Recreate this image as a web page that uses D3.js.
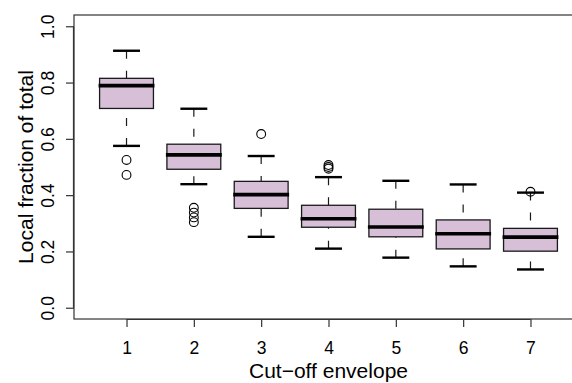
<!DOCTYPE html>
<html>
<head>
<meta charset="utf-8">
<script src="https://cdn.jsdelivr.net/npm/d3@7"></script>
<style>
  html, body { margin: 0; padding: 0; background: #fff; }
  svg { display: block; }
  text { font-family: "Liberation Sans", Arial, Helvetica, sans-serif; fill: #000; }
</style>
</head>
<body>
<svg id="chart" width="572" height="383"></svg>
<script>
// Five-number summaries per cut-off envelope, plus points beyond the whiskers
const categories  = [1, 2, 3, 4, 5, 6, 7];
const whiskerLow  = [0.575, 0.439, 0.252, 0.210, 0.178, 0.147, 0.136];
const quartile1   = [0.708, 0.492, 0.353, 0.286, 0.252, 0.209, 0.201];
const medians     = [0.789, 0.543, 0.402, 0.316, 0.287, 0.263, 0.251];
const quartile3   = [0.815, 0.581, 0.449, 0.364, 0.350, 0.312, 0.282];
const whiskerHigh = [0.913, 0.707, 0.539, 0.464, 0.451, 0.438, 0.409];
const outliers    = [
  [0.525, 0.472],
  [0.355, 0.338, 0.321, 0.304],
  [0.617],
  [0.507, 0.500, 0.494],
  [],
  [],
  [0.412]
];
const yTicks = [0.0, 0.2, 0.4, 0.6, 0.8, 1.0];
const xLabel = "Cut\u2212off envelope";
const yLabel = "Local fraction of total";

const svg = d3.select("#chart");
const plot = { left: 74, right: 583, top: 15, bottom: 319 };

const x = d3.scaleLinear().domain([0.22, 7.78]).range([plot.left, plot.right]);
const y = d3.scaleLinear().domain([-0.04, 1.04]).range([plot.bottom, plot.top]);

const unit = x(2) - x(1);
const boxW = unit * 0.8;
const capW = boxW * 0.5;
const fill = "#d8bfd8";
const ink = "#1a1a1a";

const rows = categories.map((c, i) => ({
  c, lo: whiskerLow[i], q1: quartile1[i], med: medians[i], q3: quartile3[i], hi: whiskerHigh[i], out: outliers[i]
}));

const g = svg.append("g");
const box = g.selectAll("g.box").data(rows).enter().append("g").attr("class", "box");

// whiskers, dashed, running from the cap toward the box
box.append("line")
  .attr("x1", d => x(d.c)).attr("x2", d => x(d.c))
  .attr("y1", d => y(d.hi)).attr("y2", d => y(d.q3))
  .attr("stroke", ink).attr("stroke-width", 1.2).attr("stroke-dasharray", "8,12");
box.append("line")
  .attr("x1", d => x(d.c)).attr("x2", d => x(d.c))
  .attr("y1", d => y(d.lo)).attr("y2", d => y(d.q1))
  .attr("stroke", ink).attr("stroke-width", 1.2).attr("stroke-dasharray", "8,12");

// caps
["lo", "hi"].forEach(k => {
  box.append("line")
    .attr("x1", d => x(d.c) - capW / 2).attr("x2", d => x(d.c) + capW / 2)
    .attr("y1", d => y(d[k])).attr("y2", d => y(d[k]))
    .attr("stroke", "#000").attr("stroke-width", 2.4);
});

// interquartile box
box.append("rect")
  .attr("x", d => x(d.c) - boxW / 2)
  .attr("width", boxW)
  .attr("y", d => y(d.q3))
  .attr("height", d => y(d.q1) - y(d.q3))
  .attr("fill", fill).attr("stroke", ink).attr("stroke-width", 1.3);

// median
box.append("line")
  .attr("x1", d => x(d.c) - boxW / 2 - 1).attr("x2", d => x(d.c) + boxW / 2 + 1)
  .attr("y1", d => y(d.med)).attr("y2", d => y(d.med))
  .attr("stroke", "#000").attr("stroke-width", 3.6);

// outlying points
box.selectAll("circle").data(d => d.out.map(v => ({ c: d.c, v }))).enter().append("circle")
  .attr("cx", d => x(d.c)).attr("cy", d => y(d.v)).attr("r", 4.4)
  .attr("fill", "none").attr("stroke", "#000").attr("stroke-width", 1.1);

// frame
svg.append("rect")
  .attr("x", plot.left).attr("y", plot.top)
  .attr("width", plot.right - plot.left).attr("height", plot.bottom - plot.top)
  .attr("fill", "none").attr("stroke", "#333").attr("stroke-width", 1.2);

// x axis
const xAxis = d3.axisBottom(x).tickValues(categories).tickSize(8).tickSizeOuter(0)
  .tickFormat(d3.format("d"));
const gx = svg.append("g").attr("transform", `translate(0,${plot.bottom})`).call(xAxis);
gx.select(".domain").attr("d", `M${x(1)},0.5H${x(7)}`).attr("stroke", "#333").attr("stroke-width", 1.2);
gx.selectAll(".tick line").attr("stroke", "#333").attr("stroke-width", 1.2);
gx.selectAll(".tick text")
  .attr("font-size", 17.5).attr("font-family", null).attr("fill", "#000")
  .attr("y", 35).attr("dy", null);

// y axis, labels parallel to the axis
const yAxis = d3.axisLeft(y).tickValues(yTicks).tickSize(8).tickSizeOuter(0).tickFormat(d3.format(".1f"));
const gy = svg.append("g").attr("transform", `translate(${plot.left},0)`).call(yAxis);
gy.select(".domain").attr("d", `M-0.5,${y(0)}V${y(1)}`).attr("stroke", "#333").attr("stroke-width", 1.2);
gy.selectAll(".tick line").attr("stroke", "#333").attr("stroke-width", 1.2);
gy.selectAll(".tick text")
  .attr("font-size", 17.5).attr("font-family", null).attr("fill", "#000")
  .attr("x", null).attr("dy", null)
  .attr("transform", "translate(-20,0) rotate(-90)")
  .attr("text-anchor", "middle");

// axis titles
svg.append("text")
  .attr("x", x(4)).attr("y", 377.5)
  .attr("text-anchor", "middle").attr("font-size", 21)
  .text(xLabel);
svg.append("text")
  .attr("transform", `translate(33,${y(0.5)}) rotate(-90)`)
  .attr("text-anchor", "middle").attr("font-size", 21)
  .text(yLabel);
</script>
</body>
</html>
